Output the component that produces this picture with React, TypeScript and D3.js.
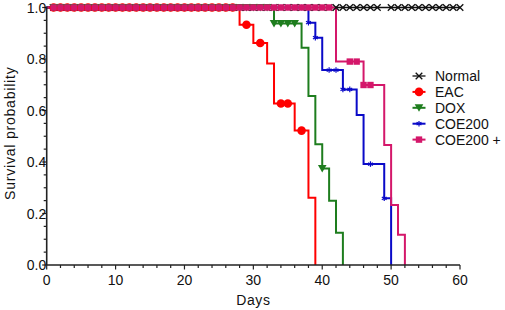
import React from 'react';
import * as d3 from 'd3';

// ---------- data ----------
const seriesNames = ['Normal', 'EAC', 'DOX', 'COE200', 'COE200 +'];

const normalDays = [0, 60];
const normalSurv = [1, 1];
const normalCensor = [1, 2, 3, 4, 5, 6, 7, 8, 9, 10, 11, 12, 13, 14, 15, 16, 17, 18, 19, 20, 21, 22, 23, 24, 25, 26, 27, 28, 29, 30,
  31, 32, 33, 34, 35, 36, 37, 38, 39, 40, 41, 42, 43, 44, 45, 46, 47, 48, 50, 51, 52, 53, 54, 55, 56, 57, 58, 59, 60];

const eacDays = [0, 28, 30, 32, 33, 36, 38, 39];
const eacSurv = [1, 0.933, 0.862, 0.783, 0.627, 0.522, 0.261, 0];
const eacCensor = [1, 2, 3, 4, 5, 6, 7, 8, 9, 10, 11, 12, 13, 14, 15, 16, 17, 18, 19, 20, 21, 22, 23, 24, 25, 26, 27, 29, 31, 34, 35, 37];

const doxDays = [0, 33, 37, 38, 39, 40, 41, 42, 43];
const doxSurv = [1, 0.9375, 0.844, 0.656, 0.469, 0.375, 0.25, 0.125, 0];
const doxCensor = [1, 2, 3, 4, 5, 6, 7, 8, 9, 10, 11, 12, 13, 14, 15, 16, 17, 18, 19, 20, 21, 22, 23, 24, 25, 26, 27, 28, 29, 30, 31, 32, 33, 34, 35, 36, 40];

const coeDays = [0, 38, 39, 40, 43, 45, 46, 49, 50];
const coeSurv = [1, 0.941, 0.883, 0.757, 0.682, 0.583, 0.392, 0.259, 0];
const coeCensor = [1, 2, 3, 4, 5, 6, 7, 8, 9, 10, 11, 12, 13, 14, 15, 16, 17, 18, 19, 20, 21, 22, 23, 24, 25, 26, 27, 28, 29, 30,
  31, 32, 33, 34, 35, 36, 37, 38, 39, 41, 42, 43, 44, 47, 49];

const coePlusDays = [0, 42, 46, 49, 50, 51, 52];
const coePlusSurv = [1, 0.79, 0.699, 0.466, 0.233, 0.117, 0];
const coePlusCensor = [1, 2, 3, 4, 5, 6, 7, 8, 9, 10, 11, 12, 13, 14, 15, 16, 17, 18, 19, 20, 21, 22, 23, 24, 25, 26, 27, 28, 29, 30,
  31, 32, 33, 34, 35, 36, 37, 38, 39, 40, 41, 44, 45, 46, 47];

const xTicks = [0, 10, 20, 30, 40, 50, 60];
const yTicks = [0, 0.2, 0.4, 0.6, 0.8, 1.0];
const yTickLabels = ['0.0', '0.2', '0.4', '0.6', '0.8', '1.0'];

// ---------- styles ----------
const colors = ['#111111', '#ff0000', '#1e7d1e', '#0a0ac8', '#d4176a'];
const W = 505, H = 310;
const M = { left: 46.7, right: 45, top: 7.5, bottom: 45 };
const FONT = '"Liberation Sans", Arial, sans-serif';

const series = [
  { days: normalDays, surv: normalSurv, censor: normalCensor },
  { days: eacDays, surv: eacSurv, censor: eacCensor },
  { days: doxDays, surv: doxSurv, censor: doxCensor },
  { days: coeDays, surv: coeSurv, censor: coeCensor },
  { days: coePlusDays, surv: coePlusSurv, censor: coePlusCensor },
];

function survAt(days: number[], surv: number[], d: number) {
  let v = surv[0];
  for (let i = 0; i < days.length; i++) if (days[i] <= d) v = surv[i];
  return v;
}

function Marker({ kind, x, y, color }: { kind: number; x: number; y: number; color: string }) {
  switch (kind) {
    case 0: {
      const s = 3.3;
      return (
        <g stroke={color} strokeWidth={1.3}>
          <line x1={x - s} y1={y - s} x2={x + s} y2={y + s} />
          <line x1={x - s} y1={y + s} x2={x + s} y2={y - s} />
        </g>
      );
    }
    case 1:
      return <circle cx={x} cy={y} r={4.3} fill={color} />;
    case 2:
      return <path d={`M${x - 4.3},${y - 3.5}L${x + 4.3},${y - 3.5}L${x},${y + 4}Z`} fill={color} />;
    case 3: {
      const s = 2.8;
      return (
        <g stroke={color} strokeWidth={1.2}>
          <line x1={x} y1={y - s} x2={x} y2={y + s} />
          <line x1={x - s * 0.87} y1={y - s * 0.5} x2={x + s * 0.87} y2={y + s * 0.5} />
          <line x1={x - s * 0.87} y1={y + s * 0.5} x2={x + s * 0.87} y2={y - s * 0.5} />
        </g>
      );
    }
    default:
      return <rect x={x - 3.2} y={y - 3.2} width={6.4} height={6.4} fill={color} />;
  }
}

export default function App() {
  const x = d3.scaleLinear().domain([0, 60]).range([M.left, W - M.right]);
  const y = d3.scaleLinear().domain([0, 1]).range([H - M.bottom, M.top]);
  const line = d3
    .line<[number, number]>()
    .x((d) => x(d[0]))
    .y((d) => y(d[1]))
    .curve(d3.curveStepAfter);

  const xMinor = x.ticks(30);
  const yMinor = y.ticks(25);
  const axisColor = '#222';
  const legendX = 412.5;
  const legendY0 = 76;
  const legendDy = 15.9;

  return (
    <svg width={W} height={H} style={{ position: 'absolute', left: 0, top: 0, background: '#fff' }}>
      {/* series lines */}
      {series.map((s, i) => (
        <path
          key={'l' + i}
          d={line(s.days.map((d, j) => [d, s.surv[j]] as [number, number])) || ''}
          fill="none"
          stroke={colors[i]}
          strokeWidth={i === 0 ? 1.3 : 2}
        />
      ))}
      {/* censor marks */}
      {series.map((s, i) => (
        <g key={'m' + i}>
          {s.censor.map((d) => (
            <Marker key={d} kind={i} x={x(d)} y={y(survAt(s.days, s.surv, d))} color={colors[i]} />
          ))}
        </g>
      ))}

      {/* axes */}
      <g stroke={axisColor} strokeWidth={1.6}>
        <line x1={x(0)} x2={x(60)} y1={y(0)} y2={y(0)} />
        <line x1={x(0)} x2={x(0)} y1={y(0)} y2={y(1) - 1} />
      </g>
      <g stroke={axisColor} strokeWidth={1.2}>
        {xMinor.map((t) => (
          <line key={'xm' + t} x1={x(t)} x2={x(t)} y1={y(0)} y2={y(0) + (xTicks.includes(t) ? 4.5 : 3)} />
        ))}
        {yMinor.map((t) => (
          <line key={'ym' + t} x1={x(0)} x2={x(0) - (yTicks.some((v) => Math.abs(v - t) < 1e-6) ? 4.5 : 3)} y1={y(t)} y2={y(t)} />
        ))}
      </g>
      <g fontFamily={FONT} fontSize={14} fill="#111">
        {xTicks.map((t) => (
          <text key={'xt' + t} x={x(t)} y={285} textAnchor="middle">
            {t}
          </text>
        ))}
        {yTicks.map((t, i) => (
          <text key={'yt' + t} x={x(0) - 0.5} y={y(t) + 5} textAnchor="end">
            {yTickLabels[i]}
          </text>
        ))}
        <text x={(x(0) + x(60)) / 2} y={305} textAnchor="middle" letterSpacing={0.6}>
          Days
        </text>
        <text
          transform={`translate(15, ${(y(0) + y(1)) / 2 - 3}) rotate(-90)`}
          textAnchor="middle"
          letterSpacing={0.8}
        >
          Survival probability
        </text>
      </g>

      {/* legend */}
      {seriesNames.map((n, i) => {
        const ly = legendY0 + i * legendDy;
        return (
          <g key={'lg' + i}>
            <line x1={legendX} x2={legendX + 13} y1={ly} y2={ly} stroke={colors[i]} strokeWidth={i === 0 ? 1.3 : 2} />
            <Marker kind={i} x={legendX + 6.5} y={ly} color={colors[i]} />
            <text x={435} y={ly + 5} fontFamily={FONT} fontSize={14} fill="#111">
              {n}
            </text>
          </g>
        );
      })}
    </svg>
  );
}
